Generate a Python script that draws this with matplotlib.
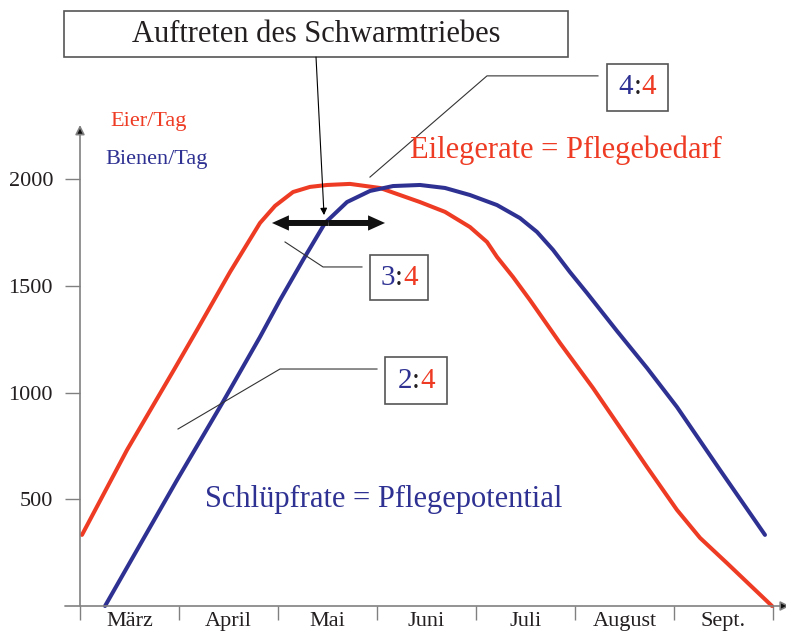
import numpy as np
import matplotlib.pyplot as plt
from matplotlib.patches import Rectangle

plt.rcParams['font.family'] = ['Liberation Serif', 'DejaVu Serif']

RED = '#EE3B24'
BLUE = '#2E3192'
GRAY = '#808080'

# months as x (0 = start of März), values per day
months = ['März', 'April', 'Mai', 'Juni', 'Juli', 'August', 'Sept.']
yticks = [500, 1000, 1500, 2000]

eier_x = [0.020, 0.475, 0.960, 1.182, 1.515, 1.818, 1.970, 2.152, 2.323, 2.495,
          2.727, 3.030, 3.434, 3.687, 3.939, 4.111, 4.212, 4.374, 4.545, 4.848,
          5.182, 5.424, 5.727, 6.030, 6.263, 6.535, 6.768, 6.990]
eier_y = [333, 731, 1115, 1293, 1564, 1794, 1874, 1939, 1963, 1972,
          1977, 1958, 1892, 1846, 1775, 1705, 1635, 1541, 1433, 1232,
          1021, 857, 651, 450, 319, 201, 98, 0]

bienen_x = [0.253, 0.616, 0.980, 1.444, 1.818, 2.020, 2.253, 2.475, 2.697, 2.929,
            3.162, 3.434, 3.687, 3.939, 4.212, 4.444, 4.616, 4.778, 4.949, 5.121,
            5.424, 5.727, 6.030, 6.465, 6.919]
bienen_y = [0, 295, 590, 956, 1260, 1433, 1621, 1794, 1892, 1944,
            1967, 1972, 1958, 1925, 1878, 1817, 1752, 1668, 1564, 1466,
            1288, 1115, 932, 637, 333]

fig = plt.figure(figsize=(7.86, 6.34), dpi=100)
ax = fig.add_axes([80/786, 28/634, 693/786, 427/634])
ax.set_xlim(0, 7)
ax.set_ylim(0, 2000)
for s in ax.spines.values():
    s.set_visible(False)

# axes with arrows
ax.annotate('', xy=(0, 2253), xytext=(0, 0), annotation_clip=False,
            arrowprops=dict(arrowstyle='-|>', color=GRAY, lw=1.2, mutation_scale=14,
                            shrinkA=0, shrinkB=0, fc='#111111'))
ax.annotate('', xy=(7.17, 0), xytext=(-0.152, 0), annotation_clip=False,
            arrowprops=dict(arrowstyle='-|>', color=GRAY, lw=1.2, mutation_scale=14,
                            shrinkA=0, shrinkB=0, fc='#111111'))

ax.set_yticks(yticks)
ax.set_yticklabels([str(v) for v in yticks])
ax.tick_params(axis='y', direction='out', length=10.8, width=1, color=GRAY,
               pad=8.6, labelsize=16, labelcolor='#231f20')
ax.set_xticks(np.arange(len(months) + 1))
ax.set_xticklabels([])
ax.set_xticks(np.arange(len(months)) + 0.5, minor=True)
ax.set_xticklabels(months, minor=True)
ax.tick_params(axis='x', which='major', direction='out', length=10, width=1, color=GRAY)
ax.tick_params(axis='x', which='minor', length=0, pad=4, labelsize=16, labelcolor='#231f20')

ax.plot(eier_x, eier_y, color=RED, lw=2.9, solid_capstyle='round',
        solid_joinstyle='round', clip_on=False)
ax.plot(bienen_x, bienen_y, color=BLUE, lw=2.9, solid_capstyle='round',
        solid_joinstyle='round', clip_on=False)

# legend-like labels
ax.text(0.303, 2267, 'Eier/Tag', color=RED, fontsize=16, va='center', ha='left')
ax.text(0.253, 2089, 'Bienen/Tag', color=BLUE, fontsize=16, va='center', ha='left')
ax.text(3.333, 2136, 'Eilegerate = Pflegebedarf', color=RED, fontsize=22, va='center', ha='left')
ax.text(1.263, 497, 'Schlüpfrate = Pflegepotential', color=BLUE, fontsize=22, va='center', ha='left')

# swarm box
ax.add_patch(Rectangle((-0.162, 2571), 5.091, 216, fill=False, ec='#555555', lw=1.2, clip_on=False))
ax.text(2.384, 2679, 'Auftreten des Schwarmtriebes', fontsize=22, ha='center', va='center',
        color='#231f20')
ax.annotate('', xy=(2.465, 1831), xytext=(2.384, 2571), annotation_clip=False,
            arrowprops=dict(arrowstyle='-|>', lw=0.8, color='black', mutation_scale=10,
                            shrinkA=0, shrinkB=0))

# double arrow (swarm period)
for tip in (1.939, 3.081):
    ax.annotate('', xy=(tip, 1794), xytext=(2.51, 1794), annotation_clip=False,
                arrowprops=dict(arrowstyle='simple,head_length=1.22,head_width=1.1,tail_width=0.43',
                                mutation_scale=10, fc='#111111', ec='none', lw=0,
                                shrinkA=0, shrinkB=0))


def ratio_box(x0, x1, y0, y1, a, b, leader_x, leader_y):
    ax.add_patch(Rectangle((x0, y0), x1 - x0, y1 - y0, fill=False, ec='#555555',
                           lw=1.2, clip_on=False))
    cx, cy = (x0 + x1) / 2, (y0 + y1) / 2
    ax.text(cx, cy, ':', fontsize=21, ha='center', va='center', color='#231f20')
    ax.annotate(a, xy=(cx, cy), xytext=(-2.9, 0), textcoords='offset points',
                fontsize=21, ha='right', va='center', color=BLUE, annotation_clip=False)
    ax.annotate(b, xy=(cx, cy), xytext=(2.9, 0), textcoords='offset points',
                fontsize=21, ha='left', va='center', color=RED, annotation_clip=False)
    ax.plot(leader_x, leader_y, color='#333333', lw=0.8, clip_on=False)


ratio_box(3.081, 3.707, 946, 1166, '2', '4', [3.0, 2.02, 0.99], [1110, 1110, 829])
ratio_box(2.929, 3.515, 1433, 1644, '3', '4', [2.848, 2.455, 2.071], [1588, 1588, 1705])
ratio_box(5.323, 5.939, 2319, 2539, '4', '4', [5.232, 4.111, 2.929], [2483, 2483, 2009])

fig.savefig('out.png', dpi=100)
